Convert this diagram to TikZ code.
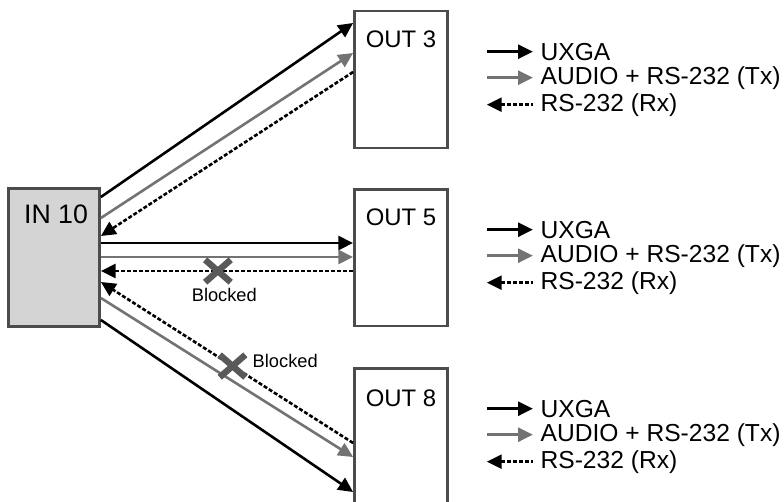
\documentclass[tikz,border=0pt]{standalone}
\usepackage{fontspec}
\setmainfont{Liberation Sans}
\usetikzlibrary{arrows.meta,positioning,shapes.misc}

\newcommand{\boxfont}{\fontsize{17}{20}\selectfont}
\newcommand{\legfont}{\fontsize{17.5}{20}\selectfont}
\newcommand{\infont}{\fontsize{19}{22}\selectfont}
\newcommand{\blkfont}{\fontsize{13}{15}\selectfont}

\tikzset{
  box/.style={draw=black!70, line width=0.7mm, minimum width=23.25mm, minimum height=34.2mm, inner sep=0pt},
  uxga/.style={line width=0.65mm},
  audio/.style={line width=0.65mm, black!55},
  rx/.style={line width=0.65mm, dash pattern=on 1mm off 0.5mm},
  blockx/.style={cross out, draw=black!65, line width=1.6mm, minimum width=4.8mm, minimum height=4mm, inner sep=0pt},
  legtext/.style={right, inner xsep=1.6mm, font=\legfont, text=black},
}

\begin{document}
\begin{tikzpicture}[x=0.25mm, y=-0.25mm, >={Triangle[length=3.7mm,width=3.5mm]}]
  \useasboundingbox (0,0) rectangle (784,502);

  % boxes
  \node[box, fill=black!17, minimum width=22.75mm, minimum height=34.5mm] (in10) at (54,257.5) {};
  \node[box] (out3) at (401,79.5) {};
  \node[box] (out5) at (401,257.5) {};
  \node[box] (out8) at (401,436.5) {};
  \node[font=\infont] (in10txt) at ([xshift=0.5mm,yshift=-6.75mm]in10.north) {IN 10};
  \node[font=\boxfont] (out3txt) at ([yshift=-7.5mm]out3.north) {OUT 3};
  \node[font=\boxfont] (out5txt) at ([yshift=-7.5mm]out5.north) {OUT 5};
  \node[font=\boxfont] (out8txt) at ([yshift=-8mm]out8.north) {OUT 8};

  % IN 10 -> OUT 3
  \draw[uxga, ->] (in10.east |- 0,197) -- (out3.west |- 0,23);
  \draw[audio, ->] (in10.east |- 0,218) -- (out3.west |- 0,53);
  \draw[rx, ->] (out3.west |- 0,72) -- (in10.east |- 0,236);

  % IN 10 -> OUT 5
  \draw[uxga, ->] (in10.east |- 0,243) -- (out5.west |- 0,243);
  \draw[audio, ->] (in10.east |- 0,257) -- (out5.west |- 0,257);
  \draw[rx, ->] (out5.west |- 0,271) -- coordinate[pos=0.536] (cut5) (in10.east |- 0,271);

  % IN 10 -> OUT 8
  \draw[rx, ->] (out8.west |- 0,443) -- coordinate[pos=0.478] (cut8) (in10.east |- 0,282);
  \draw[audio, ->] (in10.east |- 0,298) -- (out8.west |- 0,457);
  \draw[uxga, ->] (in10.east |- 0,320) -- (out8.west |- 0,492);

  % blocked returns
  \node[blockx] (x5) at (cut5) {};
  \node[blockx] (x8) at (cut8) {};
  \node[font=\blkfont, below=0.3mm of x5, xshift=1.6mm] (blk5) {Blocked};
  \node[font=\blkfont, right=0.6mm of x8, yshift=1.2mm] (blk8) {Blocked};

  % legends
  \foreach \b in {out3,out5,out8} {
    \draw[uxga, ->] ([xshift=9.5mm,yshift=-10.5mm]\b.north east) -- ++(11.5mm,0) node[legtext] (\b-uxga) {UXGA};
    \draw[audio, ->] ([xshift=9.5mm,yshift=-17mm]\b.north east) -- ++(11.5mm,0) node[legtext] (\b-audio) {AUDIO + RS-232 (Tx)};
    \draw[rx, <-] ([xshift=9.5mm,yshift=-23.75mm]\b.north east) -- ++(11.5mm,0) node[legtext] (\b-rx) {RS-232 (Rx)};
  }
\end{tikzpicture}
\end{document}
